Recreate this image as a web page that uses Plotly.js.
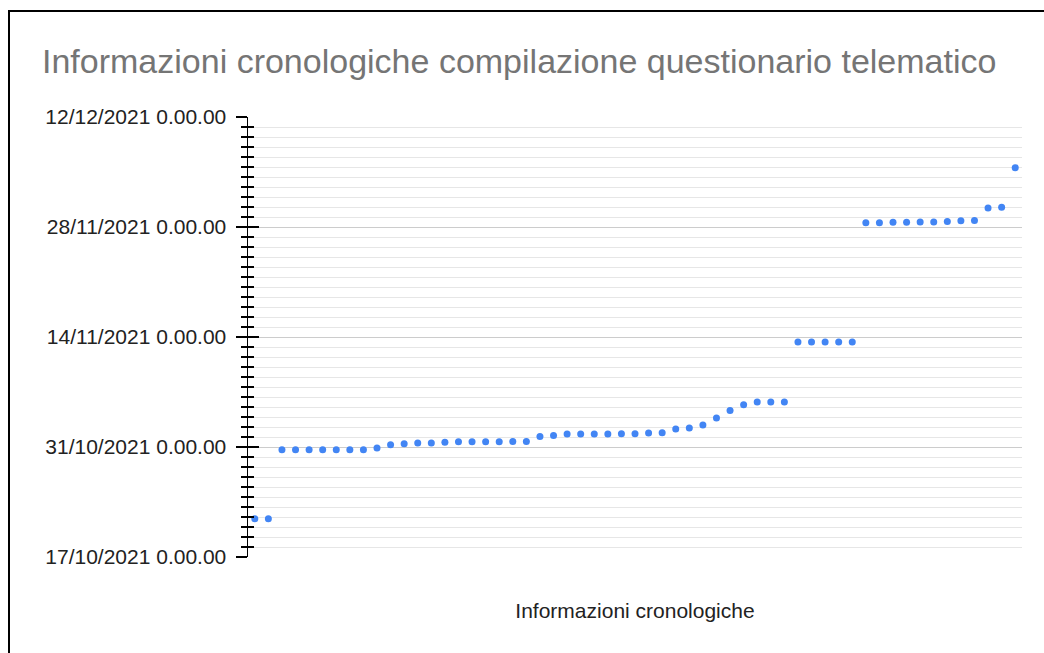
<!DOCTYPE html>
<html>
<head>
<meta charset="utf-8">
<script src="https://cdn.plot.ly/plotly-3.0.1.min.js"></script>
<style>
html,body{margin:0;padding:0;background:#fff;}
#chart{width:1044px;height:653px;}
#frame{position:absolute;left:8px;top:10px;width:2000px;height:2000px;border-left:2px solid #000;border-top:2px solid #000;pointer-events:none;}
</style>
</head>
<body>
<div id="chart"></div>
<div id="frame"></div>
<script>
// Timestamps (one per submission, in order)
const timestamps = [
  "2021-10-21 21:00","2021-10-21 21:00",
  "2021-10-30 15:50","2021-10-30 15:50","2021-10-30 15:50","2021-10-30 15:50",
  "2021-10-30 15:50","2021-10-30 15:50","2021-10-30 15:50","2021-10-30 20:50",
  "2021-10-31 07:00","2021-10-31 10:05","2021-10-31 12:15","2021-10-31 12:15",
  "2021-10-31 14:10","2021-10-31 16:05","2021-10-31 16:05","2021-10-31 16:05",
  "2021-10-31 16:05","2021-10-31 17:00","2021-10-31 17:00",
  "2021-11-01 08:25","2021-11-01 11:30","2021-11-01 15:35","2021-11-01 15:35",
  "2021-11-01 15:35","2021-11-01 15:35","2021-11-01 16:35","2021-11-01 16:35",
  "2021-11-01 18:45","2021-11-01 19:40",
  "2021-11-02 06:55","2021-11-02 10:05","2021-11-02 19:10",
  "2021-11-03 16:35","2021-11-04 15:50","2021-11-05 09:05",
  "2021-11-05 17:30","2021-11-05 17:30","2021-11-05 17:30",
  "2021-11-13 08:40","2021-11-13 08:40","2021-11-13 08:40","2021-11-13 08:40","2021-11-13 08:40",
  "2021-11-28 13:10","2021-11-28 13:10","2021-11-28 14:10","2021-11-28 14:10",
  "2021-11-28 15:20","2021-11-28 15:20","2021-11-28 17:00","2021-11-28 19:10",
  "2021-11-28 20:10",
  "2021-11-30 10:05","2021-11-30 12:00",
  "2021-12-05 13:10"
];
const rowIndex = timestamps.map((_, i) => i);
const tickValues = ["2021-10-17","2021-10-31","2021-11-14","2021-11-28","2021-12-12"];
const tickLabels = ["17/10/2021 0.00.00","31/10/2021 0.00.00","14/11/2021 0.00.00","28/11/2021 0.00.00","12/12/2021 0.00.00"];
const yRange = ["2021-10-17","2021-12-12"];

// minor gridlines: 10 between each pair of major ticks (11 intervals)
const startMs = Date.UTC(2021, 9, 17);
const endMs = Date.UTC(2021, 11, 12);
const minorStep = 14 * 86400000 / 11;
const minorVals = [];
for (let t = startMs; t <= endMs + 1; t += minorStep) minorVals.push(Math.round(t));

const data = [
  {
    x: rowIndex, y: timestamps, type: "scatter", mode: "markers",
    marker: {color: "#4285F4", size: 7},
    hoverinfo: "y", showlegend: false
  },
  {
    x: [], y: [], type: "scatter", mode: "markers", yaxis: "y2",
    showlegend: false, hoverinfo: "skip"
  }
];

const layout = {
  width: 1044, height: 653,
  margin: {l: 248, r: 22, t: 117, b: 96},
  paper_bgcolor: "#fff", plot_bgcolor: "#fff",
  showlegend: false,
  title: {
    text: "Informazioni cronologiche compilazione questionario telematico",
    font: {family: "Liberation Sans, Arial, sans-serif", size: 34, color: "#757575"},
    x: 42/1044, xanchor: "left", xref: "container",
    y: 1 - 49/653, yanchor: "top", yref: "container"
  },
  xaxis: {
    range: [-0.5, 56.5], showgrid: false, zeroline: false, showline: false,
    showticklabels: false, ticks: "",
    title: {text: "Informazioni cronologiche", standoff: 46,
      font: {family: "Liberation Sans, Arial, sans-serif", size: 21, color: "#222"}}
  },
  yaxis: {
    type: "date", range: yRange,
    tickmode: "array", tickvals: tickValues, ticktext: tickLabels,
    ticks: "outside", ticklen: 11, tickwidth: 1.5, tickcolor: "#000",
    showline: true, linecolor: "#000", linewidth: 1.5,
    showgrid: true, gridcolor: "#cccccc", gridwidth: 1,
    zeroline: false,
    tickfont: {family: "Liberation Sans, Arial, sans-serif", size: 21, color: "#222"},
    ticklabelstandoff: 5,
    minor: {tickmode: "array", tickvals: minorVals, showgrid: true, gridcolor: "#e6e6e6",
      gridwidth: 1, ticks: "outside", ticklen: 6, tickwidth: 1.5, tickcolor: "#000"}
  },
  yaxis2: {
    type: "date", range: yRange, overlaying: "y", side: "left", anchor: "x",
    tickmode: "array", tickvals: tickValues, ticktext: tickLabels,
    ticks: "inside", ticklen: 11, tickwidth: 1.5, tickcolor: "#000",
    showticklabels: false, showgrid: false, showline: false, zeroline: false,
    minor: {tickmode: "array", tickvals: minorVals, showgrid: false,
      ticks: "inside", ticklen: 6, tickwidth: 1.5, tickcolor: "#000"}
  }
};

Plotly.newPlot("chart", data, layout, {displayModeBar: false, staticPlot: true});
</script>
</body>
</html>
